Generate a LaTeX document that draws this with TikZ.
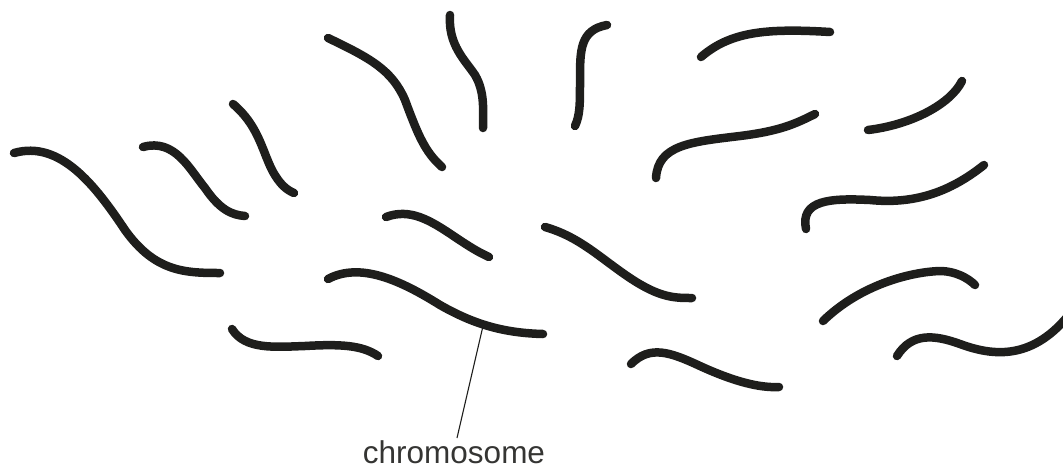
\documentclass[tikz,border=0pt]{standalone}
\usepackage{fontspec}
\setmainfont{Liberation Sans}
\begin{document}
\begin{tikzpicture}[x=1pt,y=-1pt,
  chromo/.style={draw=ink,line width=8.5pt,line cap=round,line join=round},
  leader/.style={draw=ink,line width=1.1pt},
  labeltext/.style={text=ink!90,font=\fontsize{31.5}{36}\selectfont,inner sep=0pt,anchor=base}]
\definecolor{ink}{RGB}{30,30,28}
\useasboundingbox (0,0) rectangle (1063,469);

% left group
\draw[chromo] (14,153) .. controls (60,140) and (95,185) .. (125,230) .. controls (155,272) and (185,273) .. (220,273);
\draw[chromo] (143,147) .. controls (175,138) and (190,170) .. (205,188) .. controls (220,210) and (232,215) .. (245,216);
\draw[chromo] (233,104) .. controls (258,125) and (262,150) .. (272,170) .. controls (280,185) and (287,190) .. (294,193);

% upper middle group
\draw[chromo] (328,38) .. controls (370,58) and (392,70) .. (405,100) .. controls (418,135) and (425,152) .. (442,167);
\draw[chromo] (450,15) .. controls (448,45) and (465,60) .. (475,75) .. controls (485,92) and (483,110) .. (483,128);
\draw[chromo] (607,25) .. controls (580,30) and (580,50) .. (580,80) .. controls (580,105) and (580,115) .. (575,126);

% centre group
\draw[chromo] (386,217) .. controls (410,208) and (430,220) .. (455,237) .. controls (470,247) and (478,252) .. (489,257);
\draw[chromo] (545,227) .. controls (580,237) and (600,258) .. (630,278) .. controls (660,298) and (675,298) .. (692,298);

% upper right group
\draw[chromo] (701,57) .. controls (730,32) and (765,28) .. (830,32);
\draw[chromo] (656,178) .. controls (658,145) and (690,142) .. (740,136) .. controls (780,131) and (795,124) .. (815,114);
\draw[chromo] (868,130) .. controls (910,125) and (950,105) .. (962,81);
\draw[chromo] (806,229) .. controls (800,200) and (830,198) .. (870,200) .. controls (920,205) and (955,188) .. (984,165);

% lower right group
\draw[chromo] (823,321) .. controls (860,285) and (910,272) .. (940,271) .. controls (955,271) and (968,278) .. (975,285);
\draw[chromo] (897,356) .. controls (912,332) and (935,335) .. (960,344) .. controls (990,355) and (1030,362) .. (1068,316);
\draw[chromo] (631,364) .. controls (650,345) and (670,352) .. (700,366) .. controls (735,382) and (760,388) .. (779,387);

% lower left group
\draw[chromo] (328,279) .. controls (360,262) and (400,280) .. (440,305) .. controls (475,325) and (505,333) .. (543,334);
\draw[chromo] (232,329) .. controls (245,350) and (275,347) .. (305,346) .. controls (340,344) and (362,345) .. (378,356);

% label with leader line
\coordinate (onchromo) at (483,326);
\node[labeltext] (lbl) at (454,463) {chromosome};
\coordinate (leaderend) at (457,438);
\draw[leader] (onchromo) -- (leaderend);
\end{tikzpicture}
\end{document}
